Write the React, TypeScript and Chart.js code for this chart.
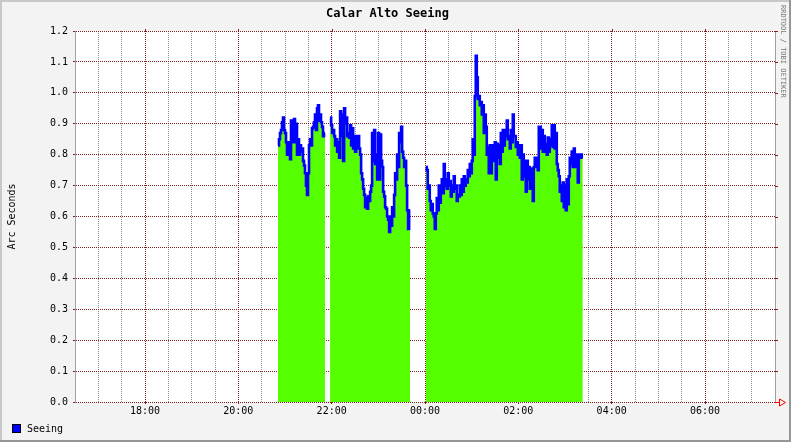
import React, { useEffect, useRef } from 'react';
import { Chart, registerables } from 'chart.js';

Chart.register(...registerables);

// ---------- data ----------
const TITLE = 'Calar Alto Seeing';
const Y_LABEL = 'Arc Seconds';
const SERIES_NAME = 'Seeing';
const CREDIT = 'RRDTOOL / TOBI OETIKER';

const X_START = '16:30';
const X_END = '07:30';
const X_TICK_LABELS = ['18:00', '20:00', '22:00', '00:00', '02:00', '04:00', '06:00'];
const Y_TICKS = [0, 0.1, 0.2, 0.3, 0.4, 0.5, 0.6, 0.7, 0.8, 0.9, 1.0, 1.1, 1.2];

// sample step in minutes
const STEP_MIN = 1.2857;
const SEG_STARTS = ['20:51', '21:58', '00:01'];

const SEG1 = [
  0.83, 0.85, 0.87, 0.88, 0.905, 0.92, 0.88, 0.87, 0.84, 0.80,
  0.84, 0.80, 0.785, 0.91, 0.84, 0.91, 0.915, 0.84, 0.90, 0.80,
  0.85, 0.80, 0.83, 0.81, 0.82, 0.78, 0.765, 0.74, 0.70, 0.67,
  0.74, 0.83, 0.85, 0.83, 0.885, 0.89, 0.905, 0.93, 0.88, 0.95,
  0.96, 0.91, 0.93, 0.905, 0.89, 0.86, 0.87,
];

const SEG2 = [
  0.92, 0.895, 0.87, 0.88, 0.86, 0.83, 0.85, 0.81, 0.84, 0.79,
  0.94, 0.86, 0.93, 0.78, 0.95, 0.90, 0.92, 0.86, 0.87, 0.855,
  0.895, 0.83, 0.885, 0.82, 0.86, 0.81, 0.86, 0.82, 0.86, 0.82,
  0.80, 0.74, 0.72, 0.69, 0.67, 0.63, 0.66, 0.625, 0.665, 0.65,
  0.68, 0.70, 0.87, 0.78, 0.88, 0.77, 0.80, 0.72, 0.87, 0.72,
  0.865, 0.78, 0.76, 0.68, 0.665, 0.63, 0.625, 0.60, 0.59, 0.55,
  0.60, 0.57, 0.63, 0.60, 0.67, 0.74, 0.72, 0.80, 0.76, 0.87,
  0.84, 0.89, 0.81, 0.79, 0.76, 0.78, 0.70, 0.62, 0.56, 0.62,
];

const SEG3 = [
  0.76, 0.75, 0.69, 0.70, 0.65, 0.62, 0.64, 0.61, 0.60, 0.56,
  0.61, 0.66, 0.62, 0.70, 0.645, 0.69, 0.72, 0.675, 0.77, 0.70,
  0.72, 0.69, 0.74, 0.70, 0.715, 0.665, 0.70, 0.68, 0.73, 0.69,
  0.70, 0.65, 0.67, 0.665, 0.70, 0.67, 0.72, 0.68, 0.73, 0.70,
  0.72, 0.71, 0.75, 0.73, 0.77, 0.74, 0.78, 0.85, 0.80, 0.99,
  1.12, 1.05, 0.98, 0.99, 0.96, 0.97, 0.93, 0.96, 0.87, 0.93,
  0.89, 0.80, 0.825, 0.74, 0.83, 0.74, 0.80, 0.83, 0.78, 0.84,
  0.72, 0.835, 0.79, 0.83, 0.77, 0.87, 0.81, 0.88, 0.83, 0.88,
  0.86, 0.91, 0.85, 0.86, 0.82, 0.88, 0.84, 0.93, 0.86, 0.86,
  0.825, 0.84, 0.80, 0.83, 0.79, 0.83, 0.72, 0.80, 0.73, 0.78,
  0.68, 0.78, 0.72, 0.76, 0.69, 0.755, 0.70, 0.65, 0.76, 0.79,
  0.76, 0.79, 0.75, 0.89, 0.89, 0.82, 0.88, 0.81, 0.86, 0.81,
  0.835, 0.80, 0.855, 0.81, 0.85, 0.83, 0.895, 0.825, 0.895, 0.82,
  0.87, 0.77, 0.75, 0.73, 0.68, 0.70, 0.65, 0.71, 0.63, 0.70,
  0.62, 0.72, 0.64, 0.73, 0.79, 0.77, 0.81, 0.76, 0.82, 0.79,
  0.76, 0.80, 0.71, 0.80, 0.79, 0.80, 0.79,
];

// ---------- styles ----------
const MONO = '"DejaVu Sans Mono", monospace';
const BACK = '#f3f3f3';
const CANVAS_BG = '#ffffff';
const SHADE_A = '#c8c8c8';
const SHADE_B = '#969696';
const MGRID = '#821e1e';
const GRID = '#8c8c8c';
const AREA = '#55ff00';
const LINE = '#0000ff';
const ARROW = '#ff0000';

function toMin(s: string): number {
  const [h, m] = s.split(':').map(Number);
  let t = h * 60 + m;
  if (t < 12 * 60) t += 24 * 60;
  return t;
}

function fmtMin(v: number): string {
  const t = ((Math.round(v) % 1440) + 1440) % 1440;
  const h = Math.floor(t / 60);
  const m = t % 60;
  return String(h).padStart(2, '0') + ':' + String(m).padStart(2, '0');
}

function buildPoints() {
  const pts: { x: number; y: number | null }[] = [];
  [SEG1, SEG2, SEG3].forEach((vals, k) => {
    const t0 = toMin(SEG_STARTS[k]);
    vals.forEach((v, i) => pts.push({ x: t0 + i * STEP_MIN, y: v }));
    const tEnd = t0 + vals.length * STEP_MIN;
    pts.push({ x: tEnd, y: vals[vals.length - 1] });
    pts.push({ x: tEnd + 0.01, y: null });
  });
  return pts;
}

const isMajorX = (v: number) => X_TICK_LABELS.includes(fmtMin(v));

const decorPlugin = {
  id: 'rrdDecor',
  beforeDraw(chart: any) {
    const { ctx, chartArea: a, width, height } = chart;
    ctx.save();
    ctx.fillStyle = BACK;
    ctx.fillRect(0, 0, width, height);
    ctx.fillStyle = CANVAS_BG;
    ctx.fillRect(a.left, a.top, a.right - a.left, a.bottom - a.top);
    ctx.restore();
  },
  afterDraw(chart: any) {
    const { ctx, chartArea: a, width, height } = chart;
    const ys = chart.scales.y;
    const xs = chart.scales.x;
    ctx.save();
    // right frame line
    ctx.strokeStyle = '#a0a0a0';
    ctx.lineWidth = 1;
    ctx.beginPath();
    ctx.moveTo(Math.round(a.right) + 0.5, a.top);
    ctx.lineTo(Math.round(a.right) + 0.5, a.bottom);
    ctx.stroke();
    // right tick marks
    ctx.strokeStyle = MGRID;
    Y_TICKS.forEach((v) => {
      const y = Math.round(ys.getPixelForValue(v)) + 0.5;
      ctx.beginPath();
      ctx.moveTo(a.right, y);
      ctx.lineTo(a.right + 3, y);
      ctx.stroke();
    });
    // top tick marks at major x
    xs.ticks.forEach((t: any) => {
      if (!isMajorX(t.value)) return;
      const x = Math.round(xs.getPixelForValue(t.value)) + 0.5;
      ctx.beginPath();
      ctx.moveTo(x, a.top - 2);
      ctx.lineTo(x, a.top);
      ctx.stroke();
    });
    // arrow
    const ay = Math.round(a.bottom) + 0.5;
    const ax = Math.round(a.right);
    ctx.strokeStyle = ARROW;
    ctx.beginPath();
    ctx.moveTo(ax, ay);
    ctx.lineTo(ax + 4, ay);
    ctx.moveTo(ax + 4.5, ay - 3.5);
    ctx.lineTo(ax + 10.5, ay);
    ctx.lineTo(ax + 4.5, ay + 3.5);
    ctx.closePath();
    ctx.stroke();
    // credit text
    ctx.fillStyle = '#7a7a7a';
    ctx.font = '7px ' + MONO;
    ctx.textAlign = 'left';
    ctx.textBaseline = 'middle';
    ctx.translate(width - 8, 5);
    ctx.rotate(Math.PI / 2);
    ctx.fillText(CREDIT, 0, 0);
    ctx.setTransform(1, 0, 0, 1, 0, 0);
    // legend
    ctx.fillStyle = LINE;
    ctx.fillRect(12, 424, 8, 8);
    ctx.strokeStyle = '#000';
    ctx.strokeRect(12.5, 424.5, 8, 8);
    ctx.fillStyle = '#000';
    ctx.font = '10px ' + MONO;
    ctx.textBaseline = 'middle';
    ctx.fillText(SERIES_NAME, 27, 429);
    // outer shading
    ctx.fillStyle = SHADE_A;
    ctx.fillRect(0, 0, width, 2);
    ctx.fillRect(0, 0, 2, height);
    ctx.fillStyle = SHADE_B;
    ctx.fillRect(0, height - 2, width, 2);
    ctx.fillRect(width - 2, 0, 2, height);
    ctx.restore();
  },
};

export default function App() {
  const ref = useRef<HTMLCanvasElement | null>(null);

  useEffect(() => {
    if (!ref.current) return;
    const chart = new Chart(ref.current, {
      type: 'line',
      data: {
        datasets: [
          {
            label: SERIES_NAME,
            data: buildPoints() as any,
            parsing: { xAxisKey: 'x', yAxisKey: 'y' } as any,
            stepped: 'before',
            borderColor: LINE,
            borderWidth: 2.6,
            backgroundColor: AREA,
            fill: 'origin',
            pointRadius: 0,
            spanGaps: false,
          } as any,
        ],
      },
      options: {
        responsive: false,
        animation: false,
        layout: { padding: { left: 0, right: 16, top: 0, bottom: 0 } },
        plugins: {
          legend: { display: false },
          tooltip: { enabled: false },
          title: {
            display: true,
            text: TITLE,
            color: '#000',
            font: { family: MONO, size: 12, weight: 'bold' },
            padding: { top: 7, bottom: 9.6 },
          },
        },
        scales: {
          x: {
            type: 'linear',
            min: toMin(X_START),
            max: toMin(X_END),
            z: 1,
            afterFit: (s: any) => {
              s.height = 40;
            },
            ticks: {
              stepSize: 30,
              autoSkip: false,
              maxRotation: 0,
              minRotation: 0,
              color: '#000',
              padding: 1,
              font: { family: MONO, size: 10 },
              callback: (v: any) => {
                const l = fmtMin(Number(v));
                return X_TICK_LABELS.includes(l) ? l : '';
              },
            },
            grid: {
              color: (c: any) => (c.tick && isMajorX(c.tick.value) ? MGRID : GRID),
              tickColor: (c: any) => (c.tick && isMajorX(c.tick.value) ? MGRID : 'rgba(0,0,0,0)'),
              lineWidth: 1,
              drawTicks: true,
              tickLength: 2,
            },
            border: { display: false, dash: [1, 1] },
          },
          y: {
            min: 0,
            max: 1.2,
            z: 1,
            afterFit: (s: any) => {
              s.width = 75;
            },
            afterBuildTicks: (s: any) => {
              s.ticks = Y_TICKS.map((v) => ({ value: v }));
            },
            ticks: {
              color: '#000',
              padding: 5,
              font: { family: MONO, size: 10 },
              callback: (v: any) => Number(v).toFixed(1),
            },
            grid: {
              color: MGRID,
              tickColor: MGRID,
              lineWidth: 1,
              drawTicks: true,
              tickLength: 2,
            },
            border: { display: true, color: '#a0a0a0', width: 1, dash: [1, 1] },
            title: {
              display: true,
              text: Y_LABEL,
              color: '#000',
              font: { family: MONO, size: 10 },
              padding: { top: 6, bottom: 0 },
            },
          },
        },
      } as any,
      plugins: [decorPlugin],
    });
    return () => chart.destroy();
  }, []);

  return (
    <div style={{ position: 'fixed', left: 0, top: 0, width: 791, height: 442 }}>
      <canvas ref={ref} width={791} height={442} style={{ display: 'block', width: 791, height: 442 }} />
    </div>
  );
}
